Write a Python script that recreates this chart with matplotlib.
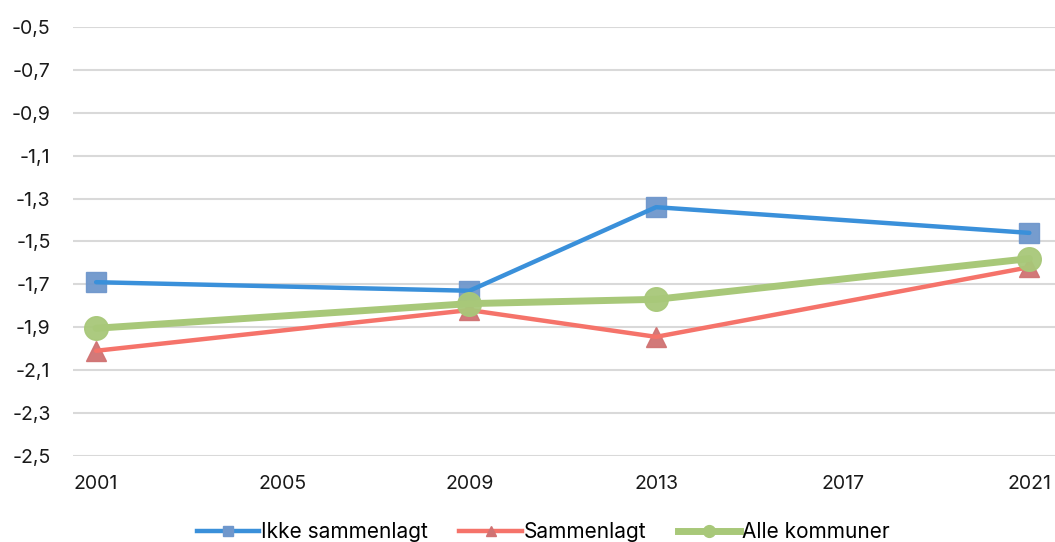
import matplotlib.pyplot as plt
from matplotlib.lines import Line2D
from matplotlib.ticker import FuncFormatter

plt.rcParams['font.family'] = ['Inter', 'DejaVu Sans']

years = [2001, 2009, 2013, 2021]
ikke_sammenlagt = [-1.69, -1.73, -1.34, -1.46]
sammenlagt = [-2.01, -1.82, -1.945, -1.62]
alle_kommuner = [-1.905, -1.79, -1.77, -1.58]
x_ticks = [2001, 2005, 2009, 2013, 2017, 2021]
y_ticks = [-2.5, -2.3, -2.1, -1.9, -1.7, -1.5, -1.3, -1.1, -0.9, -0.7, -0.5]

series = [
    ("Ikke sammenlagt", ikke_sammenlagt, '#3a90da', 3.2, 's', 15, '#6f97cc'),
    ("Sammenlagt", sammenlagt, '#f5736a', 3.2, '^', 14, '#d07272'),
    ("Alle kommuner", alle_kommuner, '#a8c879', 5, 'o', 17, '#a8c879'),
]

fig = plt.figure(figsize=(10.55, 5.42), dpi=100)
ax = fig.add_axes([0.069, 0.159, 0.931, 0.791])

handles = []
z = 2
for name, vals, lc, lw, mk, ms, mc in series:
    ax.plot(years, vals, linestyle='none', marker=mk, markersize=ms,
            color=mc, alpha=0.95, zorder=z)
    ax.plot(years, vals, color=lc, linewidth=lw, zorder=z + 0.1,
            solid_capstyle='round')
    z += 0.2
    handles.append(Line2D([0], [0], color=lc, linewidth=lw, marker=mk,
                          markersize=ms * 0.5, markerfacecolor=mc,
                          markeredgecolor=mc, label=name))

ax.set_xlim(2000.5, 2021.55)
ax.set_ylim(-2.5, -0.5)
ax.set_xticks(x_ticks)
ax.set_yticks(y_ticks)
ax.yaxis.set_major_formatter(FuncFormatter(lambda v, p: f"{v:.1f}".replace('.', ',')))
ax.grid(axis='y', color='#d9d9d9', linewidth=1.5)
ax.set_axisbelow(True)
for s in ax.spines.values():
    s.set_visible(False)
ax.tick_params(length=0, labelsize=14, colors='#1a1a1a')
ax.tick_params(axis='x', pad=14)
ax.tick_params(axis='y', pad=16)

fig.legend(handles=handles, loc='lower center', ncol=3, frameon=False,
           fontsize=15, bbox_to_anchor=(0.515, -0.035), handlelength=3.0,
           columnspacing=1.5, handletextpad=0.1)

fig.savefig('out.png', dpi=100)
